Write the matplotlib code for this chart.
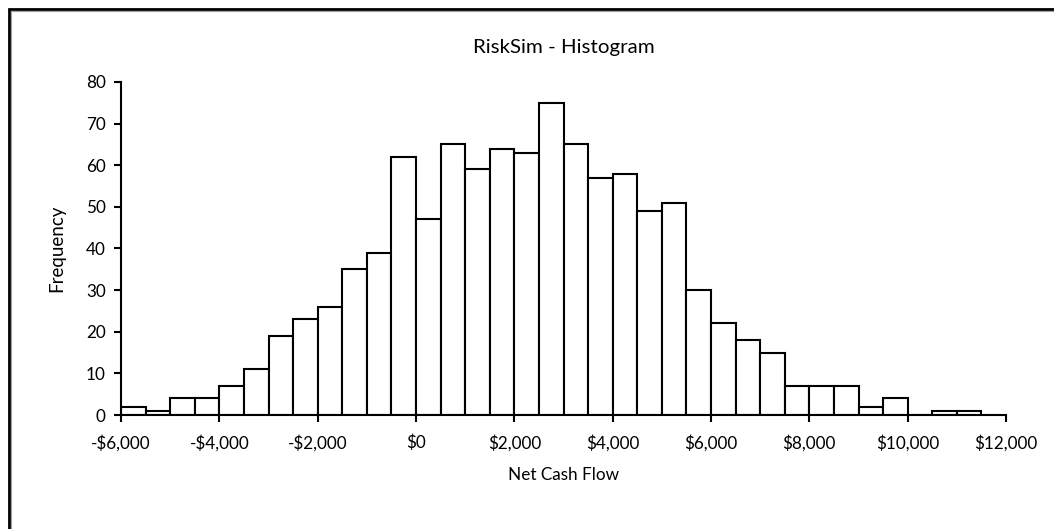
import matplotlib.pyplot as plt
from matplotlib.patches import Rectangle
from matplotlib.ticker import FuncFormatter
import numpy as np

# bin left edges (width 500) and counts
bin_starts = np.arange(-6000, 11500, 500)
counts = [2, 1, 4, 4, 7, 11, 19, 23, 26, 35, 39, 62, 47, 65, 59, 64, 63, 75,
          65, 57, 58, 49, 51, 30, 22, 18, 15, 7, 7, 7, 2, 4, 0, 1, 1]
x_ticks = list(range(-6000, 12001, 2000))
y_ticks = list(range(0, 81, 10))

plt.rcParams['font.family'] = ['Lato', 'DejaVu Sans']
plt.rcParams['font.size'] = 12.3

fig = plt.figure(figsize=(10.54, 5.29), dpi=100)
ax = fig.add_axes([121/1054, 1 - 415/529, (1006 - 121)/1054, (415 - 82)/529])

ax.bar(bin_starts, counts, width=500, align='edge', color='white',
       edgecolor='black', linewidth=1.5)

def money(v, pos):
    v = int(v)
    return f"-${abs(v):,}" if v < 0 else f"${v:,}"

ax.set_xlim(-6000, 12000)
ax.set_ylim(0, 80)
ax.set_xticks(x_ticks)
ax.xaxis.set_major_formatter(FuncFormatter(money))
ax.set_yticks(y_ticks)
ax.tick_params(direction='out', length=5, width=1.5, pad=9)
ax.tick_params(axis='y', pad=6)
for s in ['top', 'right']:
    ax.spines[s].set_visible(False)
for s in ['left', 'bottom']:
    ax.spines[s].set_linewidth(1.5)

ax.set_title('RiskSim - Histogram', pad=21)
ax.set_xlabel('Net Cash Flow', labelpad=11)
ax.set_ylabel('Frequency', labelpad=15, fontsize=13.5)

# outer chart frame (right and bottom edges fall outside the image)
fig.patches.append(Rectangle((9/1054, -0.1), 1.2, 1.1 - 9/529, transform=fig.transFigure,
                             fill=False, edgecolor='black', linewidth=2))
fig.patches.append(Rectangle((11/1054, -0.1), 1.2, 1.1 - 11/529, transform=fig.transFigure,
                             fill=False, edgecolor='#a0a0a0', linewidth=0.8))

fig.savefig('out.png', dpi=100)
